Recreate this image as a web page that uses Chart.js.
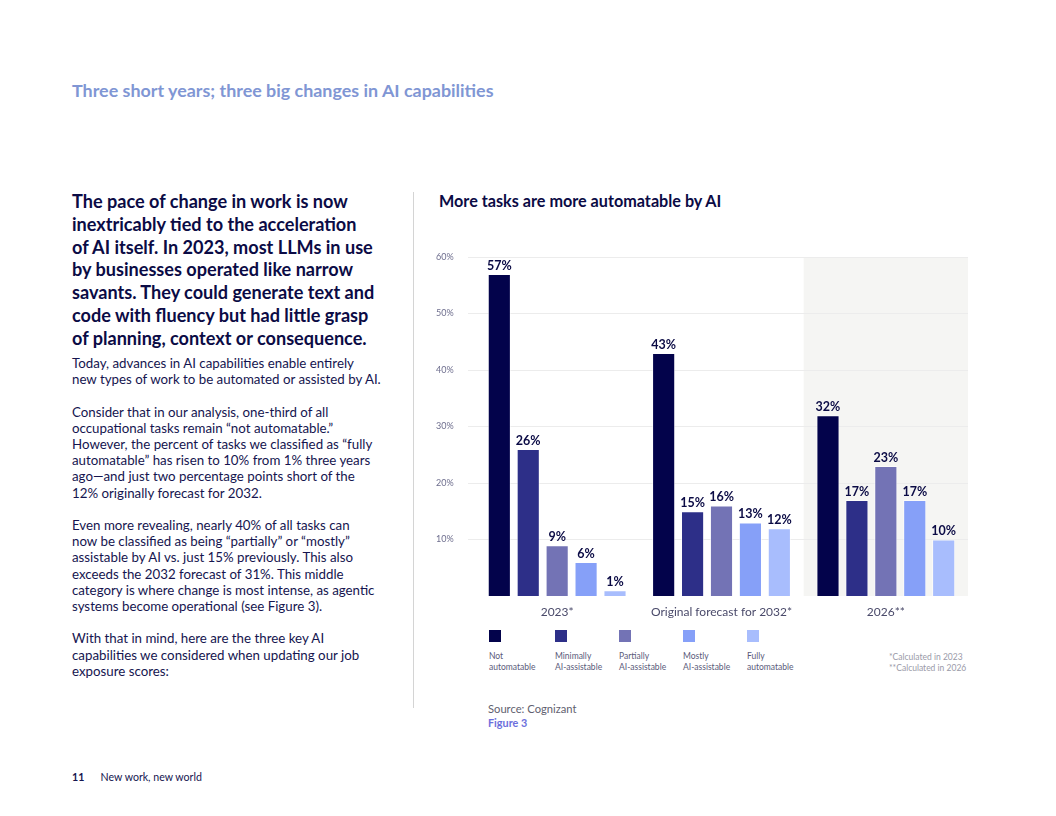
<!DOCTYPE html>
<html>
<head>
<meta charset="utf-8">
<script src="https://cdn.jsdelivr.net/npm/chart.js@4.4.1/dist/chart.umd.min.js"></script>
<style>
  body { margin: 0; width: 1056px; height: 816px; background: #fff; font-family: Lato, "Noto Sans", sans-serif; color: #0b0b45; position: relative; overflow: hidden; }
  .abs { position: absolute; }
  #head { left: 72px; top: 79px; font-size: 17.9px; font-weight: bold; color: #8096d4; }
  #lead { left: 72px; top: 190px; font-size: 18.1px; line-height: 22.8px; font-weight: bold; color: #0b0b45; }
  #body { left: 72px; top: 355px; font-size: 13.3px; line-height: 16.2px; color: #15154f; }
  #body p { margin: 0 0 16.2px 0; }
  #divider { left: 413px; top: 192px; width: 1px; height: 516px; background: #d4d4d4; }
  #ctitle { left: 439px; top: 191px; font-size: 16.2px; font-weight: bold; color: #0b0b45; }
  #legend { left: 489px; top: 630px; }
  .item { position: absolute; top: 0; width: 70px; }
  .sw { width: 12px; height: 12px; }
  .lbl { margin-top: 9px; font-size: 8.5px; line-height: 10.5px; color: #5a5a7a; }
  #notes { left: 889px; top: 652px; font-size: 8.5px; line-height: 10.5px; color: #9a9aa8; }
  #source { left: 488px; top: 702px; font-size: 11.2px; color: #5f5f6f; }
  #fig { left: 488px; top: 716px; font-size: 10.8px; font-weight: bold; color: #6c6fdc; }
  #foot { left: 72px; top: 771px; font-size: 10.6px; color: #15154f; }
</style>
</head>
<body>
<div class="abs" id="head">Three short years; three big changes in AI capabilities</div>
<div class="abs" id="lead">The pace of change in work is now<br>inextricably tied to the acceleration<br>of AI itself. In 2023, most LLMs in use<br>by businesses operated like narrow<br>savants. They could generate text and<br>code with fluency but had little grasp<br>of planning, context or consequence.</div>
<div class="abs" id="body">
<p>Today, advances in AI capabilities enable entirely<br>new types of work to be automated or assisted by AI.</p>
<p>Consider that in our analysis, one-third of all<br>occupational tasks remain “not automatable.”<br>However, the percent of tasks we classified as “fully<br>automatable” has risen to 10% from 1% three years<br>ago—and just two percentage points short of the<br>12% originally forecast for 2032.</p>
<p>Even more revealing, nearly 40% of all tasks can<br>now be classified as being “partially” or “mostly”<br>assistable by AI vs. just 15% previously. This also<br>exceeds the 2032 forecast of 31%. This middle<br>category is where change is most intense, as agentic<br>systems become operational (see Figure 3).</p>
<p>With that in mind, here are the three key AI<br>capabilities we considered when updating our job<br>exposure scores:</p>
</div>
<div class="abs" id="divider"></div>
<div class="abs" id="ctitle">More tasks are more automatable by AI</div>
<canvas class="abs" id="chart" width="540" height="376" style="left:436px; top:245px;"></canvas>
<div class="abs" id="legend"></div>
<div class="abs" id="notes">*Calculated in 2023<br>**Calculated in 2026</div>
<div class="abs" id="source">Source: Cognizant</div>
<div class="abs" id="fig">Figure 3</div>
<div class="abs" id="foot"><b>11</b>&nbsp;&nbsp;&nbsp;&nbsp;&nbsp;&nbsp;New work, new world</div>

<script>
var periods = ["2023*", "Original forecast for 2032*", "2026**"];
var series = ["Not automatable", "Minimally AI-assistable", "Partially AI-assistable", "Mostly AI-assistable", "Fully automatable"];
var legendLines = [["Not", "automatable"], ["Minimally", "AI-assistable"], ["Partially", "AI-assistable"], ["Mostly", "AI-assistable"], ["Fully", "automatable"]];
var notAutomatable = [57, 43, 32];
var minimallyAssistable = [26, 15, 17];
var partiallyAssistable = [9, 16, 23];
var mostlyAssistable = [6, 13, 17];
var fullyAutomatable = [1, 12, 10];
var yTicks = [10, 20, 30, 40, 50, 60];
var colors = ["#03034b", "#2d2f88", "#7373b5", "#86a0f8", "#a8bdfd"];

var values = [notAutomatable, minimallyAssistable, partiallyAssistable, mostlyAssistable, fullyAutomatable];

// legend, built from the same arrays
var leg = document.getElementById("legend");
var legX = [0, 66, 130, 194, 258];
for (var i = 0; i < series.length; i++) {
  var it = document.createElement("div");
  it.className = "item";
  it.style.left = legX[i] + "px";
  it.title = series[i];
  it.innerHTML = '<div class="sw" style="background:' + colors[i] + '"></div><div class="lbl">' + legendLines[i].join("<br>") + '</div>';
  leg.appendChild(it);
}

// shaded band behind the last period
var panel = {
  id: "panel",
  beforeDraw: function(chart) {
    var x = chart.scales.x, y = chart.scales.y, ctx = chart.ctx;
    var w = (x.right - x.left) / periods.length;
    var left = x.getPixelForValue(2) - w / 2;
    var top = y.getPixelForValue(60);
    ctx.save();
    ctx.fillStyle = "#f5f5f3";
    ctx.fillRect(left, top, w, chart.chartArea.bottom - top);
    ctx.restore();
  }
};

var barLabels = {
  id: "barLabels",
  afterDatasetsDraw: function(chart) {
    var ctx = chart.ctx;
    ctx.save();
    ctx.font = "bold 12.5px Lato";
    ctx.fillStyle = "#0b0b45";
    ctx.textAlign = "center";
    ctx.textBaseline = "bottom";
    chart.data.datasets.forEach(function(ds, i) {
      chart.getDatasetMeta(i).data.forEach(function(bar, j) {
        ctx.fillText(ds.data[j] + "%", bar.x, bar.y - 2);
      });
    });
    ctx.restore();
  }
};

var ctx = document.getElementById("chart");
var chart = new Chart(ctx, {
  type: "bar",
  data: {
    labels: periods,
    datasets: series.map(function(name, i) {
      return {
        label: name,
        data: values[i],
        backgroundColor: colors[i],
        borderColor: "rgba(255,255,255,0.6)",
        borderWidth: 1,
        categoryPercentage: 0.88,
        barPercentage: 0.8
      };
    })
  },
  options: {
    responsive: false,
    animation: false,
    layout: { padding: { top: 12, right: 8, left: 0, bottom: 0 } },
    plugins: { legend: { display: false }, tooltip: { enabled: false } },
    scales: {
      x: {
        grid: { display: false },
        border: { display: false },
        ticks: { color: "#4a4a6a", font: { family: "Lato", size: 12 }, padding: 1 },
        afterFit: function(s) { s.height = 25; }
      },
      y: {
        min: 0,
        max: 60,
        afterBuildTicks: function(s) { s.ticks = yTicks.map(function(v) { return { value: v }; }); },
        grid: { color: "#ececec", tickLength: 7, tickColor: "#ececec" },
        border: { display: false },
        ticks: {
          color: "#6e6e8e",
          font: { family: "Lato", size: 9 },
          crossAlign: "far",
          padding: 2,
          callback: function(v) { return v + "%"; }
        },
        afterFit: function(s) { s.width = 39; }
      }
    }
  },
  plugins: [panel, barLabels]
});
</script>
</body>
</html>
